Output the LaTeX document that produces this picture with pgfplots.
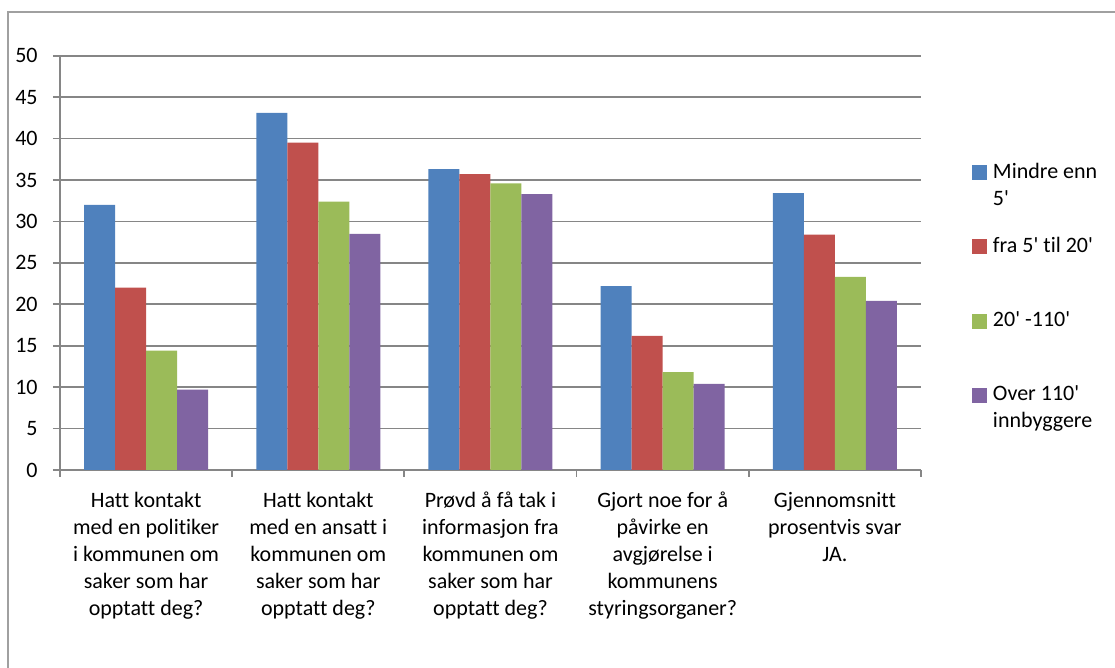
\documentclass[border=0pt]{standalone}
\usepackage{fontspec}
\setmainfont{Carlito}[Ligatures={TeXOff,NoCommon}]
\usepackage{pgfplots}
\pgfplotsset{compat=1.18}
\definecolor{cblue}{HTML}{4F81BD}
\definecolor{cred}{HTML}{C0504D}
\definecolor{cgreen}{HTML}{9BBB59}
\definecolor{cpurple}{HTML}{8064A2}
\definecolor{gridgray}{RGB}{134,134,134}
\definecolor{bordergray}{RGB}{160,160,160}
\newcommand{\lf}{\fontsize{11}{13.5}\selectfont}
\begin{document}
\begin{tikzpicture}
\useasboundingbox (0,0) rectangle (557.5pt,334pt);
\draw[color=bordergray, line width=1pt] (4pt,-10pt) -- (4pt,328pt) -- (580pt,328pt);
\begin{axis}[
  at={(30pt,99pt)}, anchor=south west,
  scale only axis, width=430.5pt, height=207.15pt,
  ybar=0pt, bar width=15.5pt,
  xmin=-0.5, xmax=4.5, ymin=0, ymax=50,
  ytick={0,5,...,50},
  xtick={-0.5,0.5,1.5,2.5,3.5,4.5},
  xticklabels={},
  extra x ticks={0,1,2,3,4},
  extra x tick labels={
    {\strut Hatt kontakt\\med en politiker\\i kommunen om\\saker som har\\opptatt deg?},
    {\strut Hatt kontakt\\med en ansatt i\\kommunen om\\saker som har\\opptatt deg?},
    {\strut Prøvd å få tak i\\informasjon fra\\kommunen om\\saker som har\\opptatt deg?},
    {\strut Gjort noe for å\\påvirke en\\avgjørelse i\\kommunens\\styringsorganer?},
    {\strut Gjennomsnitt\\prosentvis svar\\JA.}},
  extra x tick style={major tick length=0pt, grid=none},
  xticklabel style={font=\lf, align=center, anchor=north, inner sep=0pt, yshift=-9pt},
  yticklabel style={font=\lf, anchor=east, inner sep=0pt, xshift=-7.5pt},
  /pgf/number format/assume math mode=true,
  axis x line*=bottom, axis y line*=left,
  axis line style={-, draw=gridgray, line width=0.9pt},
  tick align=outside, major tick length=3.5pt,
  tick style={draw=gridgray, line width=0.9pt},
  ymajorgrids, major grid style={draw=gridgray, line width=0.9pt},
  legend style={draw=none, fill=none, at={(1.0592,0.743)}, anchor=north west,
    inner sep=0pt, outer sep=0pt, row sep=27.1pt, column sep=3pt, font=\lf,
    nodes={inner sep=0pt, text height=8pt, text depth=2pt}},
  legend cell align=left,
  legend image code/.code={\fill[#1] (0pt,-4pt) rectangle (7.5pt,3.5pt);},
]
\addplot[fill=cblue, draw=none] coordinates {(0,32.0) (1,43.1) (2,36.3) (3,22.2) (4,33.4)};
\addplot[fill=cred, draw=none] coordinates {(0,22.0) (1,39.5) (2,35.7) (3,16.2) (4,28.4)};
\addplot[fill=cgreen, draw=none] coordinates {(0,14.4) (1,32.4) (2,34.6) (3,11.8) (4,23.3)};
\addplot[fill=cpurple, draw=none] coordinates {(0,9.7) (1,28.5) (2,33.3) (3,10.4) (4,20.4)};
\addlegendentry{\smash{\begin{tabular}[t]{@{}l@{}}Mindre enn\\5'\end{tabular}}}
\addlegendentry{fra 5' til 20'}
\addlegendentry{20' -110'}
\addlegendentry{\smash{\begin{tabular}[t]{@{}l@{}}Over 110'\\innbyggere\end{tabular}}}
\end{axis}
\end{tikzpicture}
\end{document}
